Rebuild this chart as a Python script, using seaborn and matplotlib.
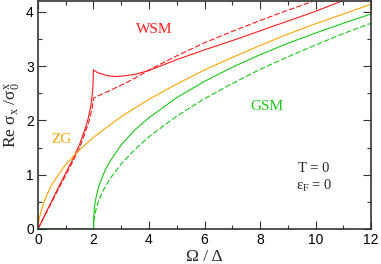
import numpy as np
import pandas as pd
import matplotlib
matplotlib.use('Agg')
import matplotlib.pyplot as plt
import seaborn as sns
from matplotlib.ticker import MultipleLocator

# Оптическая проводимость Re sigma_x / sigma_0^x
# WSM, сплошная
wsm_w = [0, 0.25, 0.5, 0.75, 1.0, 1.25, 1.5, 1.7, 1.8, 1.9, 1.95, 1.98, 2.0,
         2.15, 2.33, 2.55, 2.8, 3.1, 3.5, 4.0, 4.5, 5.0, 5.5, 6.0, 7.0, 8.0, 9.0, 10.0, 11.0]
wsm_s = [0, 0.26, 0.52, 0.78, 1.03, 1.28, 1.56, 1.85, 2.02, 2.25, 2.45, 2.62, 2.93,
         2.88, 2.85, 2.82, 2.81, 2.82, 2.85, 2.92, 3.02, 3.12, 3.21, 3.30, 3.47, 3.65, 3.83, 4.01, 4.21]
# WSM, пунктир
wsmd_w = [0, 0.25, 0.5, 0.75, 1.0, 1.25, 1.5, 1.75, 1.85, 1.95, 2.0,
          2.5, 3.0, 3.5, 4.0, 5.0, 6.0, 7.0, 8.0, 9.0, 10.0]
wsmd_s = [0, 0.25, 0.50, 0.75, 0.99, 1.24, 1.50, 1.85, 2.00, 2.22, 2.41,
          2.53, 2.65, 2.78, 2.93, 3.19, 3.43, 3.64, 3.84, 4.03, 4.21]
# ZG
zg_w = [0, 0.02, 0.05, 0.1, 0.2, 0.35, 0.5, 0.75, 1.0, 1.5, 2.0, 3.0, 4.0, 5.0,
        6.0, 7.0, 8.0, 9.0, 10.0, 11.0, 12.0]
zg_s = [0, 0.12, 0.20, 0.30, 0.47, 0.66, 0.82, 1.01, 1.19, 1.46, 1.69, 2.07, 2.39, 2.67,
        2.93, 3.16, 3.38, 3.59, 3.78, 3.96, 4.14]
# GSM, сплошная
gsm_w = [0, 1.0, 2.0, 2.01, 2.03, 2.05, 2.1, 2.2, 2.4, 2.6, 3.0, 3.5, 4.0, 5.0,
         6.0, 7.0, 8.0, 9.0, 10.0, 11.0, 12.0]
gsm_s = [0, 0, 0, 0.24, 0.37, 0.46, 0.60, 0.80, 1.06, 1.25, 1.55, 1.83, 2.05, 2.42,
         2.72, 2.98, 3.21, 3.42, 3.61, 3.79, 3.96]
# GSM, пунктир
gsmd_w = [2.0, 2.01, 2.03, 2.06, 2.1, 2.2, 2.35, 2.6, 3.0, 3.5, 4.0, 5.0,
          6.0, 7.0, 8.0, 9.0, 10.0, 11.0, 12.0]
gsmd_s = [0, 0.12, 0.21, 0.29, 0.38, 0.54, 0.71, 0.93, 1.20, 1.47, 1.70, 2.08,
          2.40, 2.68, 2.94, 3.17, 3.39, 3.60, 3.79]

RED = '#ff1a1a'
ORANGE = '#ffa500'
GREEN = '#17c917'

sns.set_style('ticks')
plt.rcParams['font.family'] = ['Liberation Sans', 'DejaVu Sans']
plt.rcParams['mathtext.fontset'] = 'custom'
plt.rcParams['mathtext.rm'] = 'Liberation Serif'
plt.rcParams['mathtext.it'] = 'Liberation Serif'
plt.rcParams['mathtext.default'] = 'regular'

fig = plt.figure(figsize=(3.81, 2.64), dpi=100)
ax = fig.add_axes([0.0997, 0.1326, 0.8741, 0.8636])

lw = 0.8
sns.lineplot(x=wsm_w, y=wsm_s, ax=ax, color=RED, lw=lw, sort=False, estimator=None)
sns.lineplot(x=wsmd_w, y=wsmd_s, ax=ax, color=RED, lw=lw, sort=False, estimator=None)
ax.lines[-1].set_dashes((5, 2))
sns.lineplot(x=zg_w, y=zg_s, ax=ax, color=ORANGE, lw=lw, sort=False, estimator=None)
sns.lineplot(x=gsm_w, y=gsm_s, ax=ax, color=GREEN, lw=lw, sort=False, estimator=None)
sns.lineplot(x=gsmd_w, y=gsmd_s, ax=ax, color=GREEN, lw=lw, sort=False, estimator=None)
ax.lines[-1].set_dashes((5, 2))

ax.set_xlim(0, 12)
ax.set_ylim(0, 4.2)
ax.xaxis.set_major_locator(MultipleLocator(2))
ax.xaxis.set_minor_locator(MultipleLocator(1))
ax.yaxis.set_major_locator(MultipleLocator(1))
ax.yaxis.set_minor_locator(MultipleLocator(0.5))
ax.tick_params(which='both', direction='in', top=True, right=True, labelsize=10,
               width=0.8, colors='#333333', labelcolor='black', pad=3)
ax.tick_params(which='major', length=6)
ax.tick_params(which='minor', length=3)
for sp in ax.spines.values():
    sp.set_linewidth(1.2)
    sp.set_color('#333333')

serif = ['Liberation Serif', 'DejaVu Serif']
ax.set_xlabel('Ω / Δ', fontsize=12.5, family=serif, labelpad=1)
ax.set_ylabel(r'Re σ$_x$ /σ$^x_0$', fontsize=12.5, family=serif, labelpad=2)

ax.text(4.19, 3.67, 'WSM', color=RED, fontsize=11, family=serif, ha='center', va='center')
ax.text(8.26, 2.25, 'GSM', color=GREEN, fontsize=11, family=serif, ha='center', va='center')
ax.text(0.85, 1.64, 'ZG', color=ORANGE, fontsize=11, family=serif, ha='center', va='center')
ax.text(9.94, 1.12, 'T = 0', fontsize=10.5, family=serif, ha='center', va='center')
ax.text(9.94, 0.80, r'ε$_F$ = 0', fontsize=10.5, family=serif, ha='center', va='center')

fig.savefig('out.png', dpi=100)
